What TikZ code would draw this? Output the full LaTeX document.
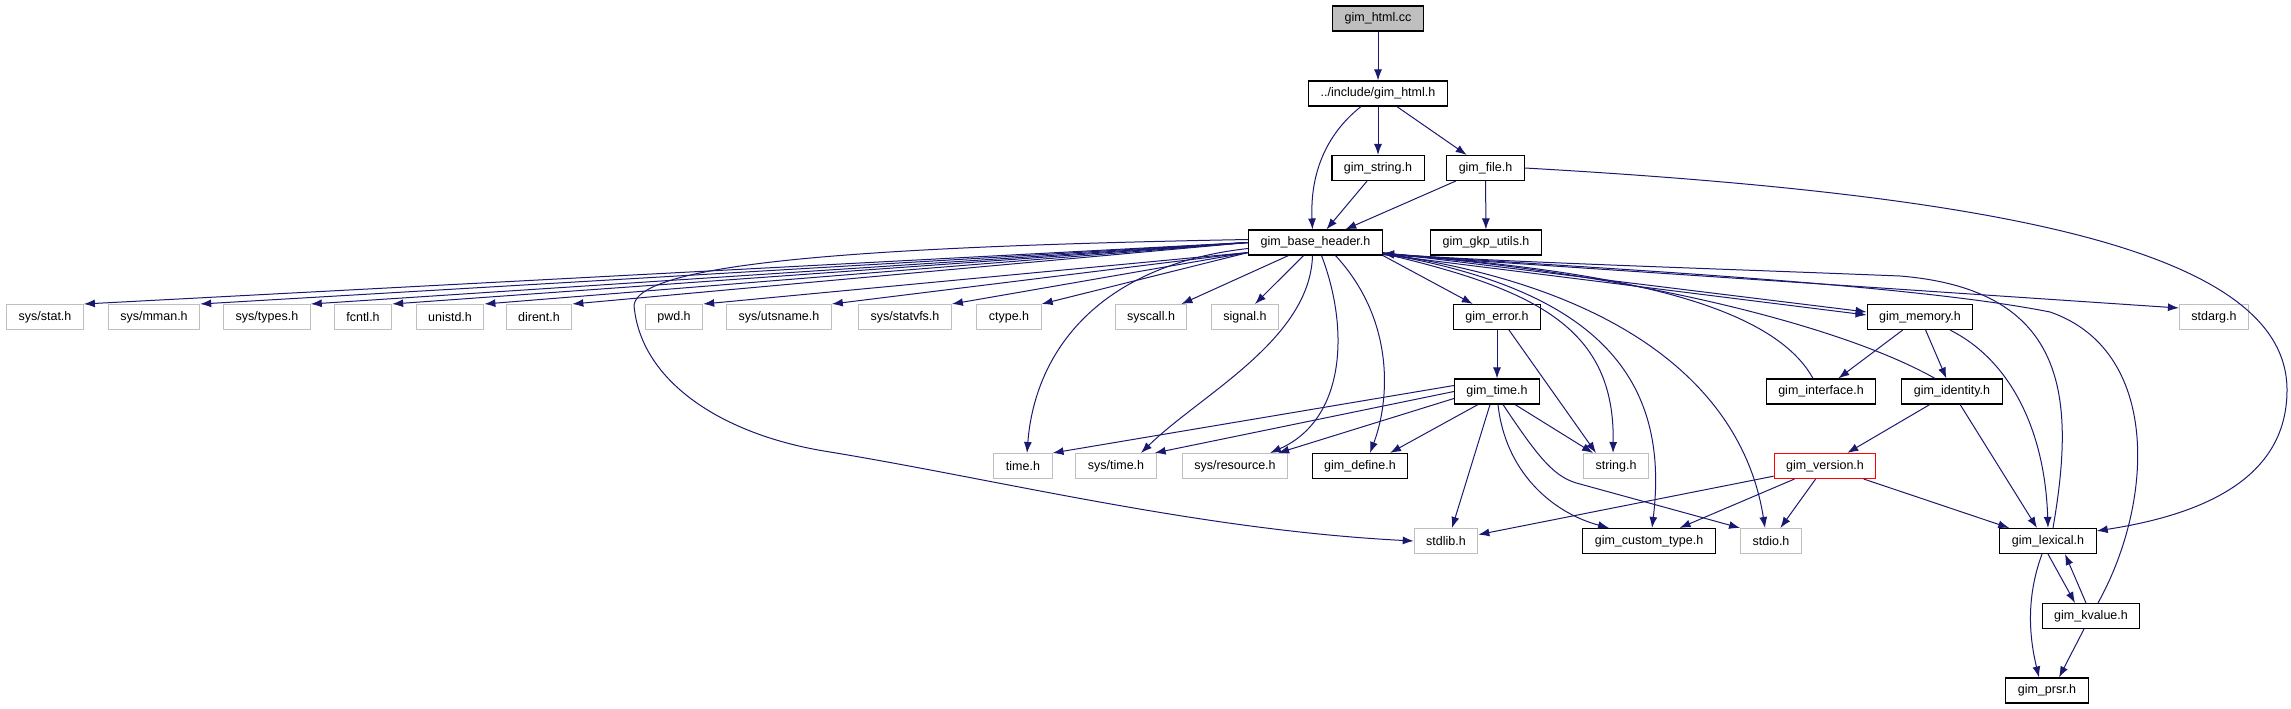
\documentclass[tikz,border=0pt]{standalone}
\usepackage{fontspec}
\setmainfont{Liberation Sans}
\usetikzlibrary{arrows.meta}

\definecolor{edgeblue}{HTML}{191970}
\definecolor{sysgrey}{HTML}{BFBFBF}
\definecolor{rootgrey}{HTML}{BFBFBF}

\tikzset{
  hdr/.style={draw=black, line width=1.1pt, inner xsep=12pt, inner ysep=0pt,
    minimum height=25pt, font=\fontsize{12.5}{14}\selectfont},
  syshdr/.style={hdr, draw=sysgrey, line width=1pt},
  roothdr/.style={hdr, fill=rootgrey},
  redhdr/.style={hdr, draw=red},
  incl/.style={draw=edgeblue, line width=1pt, -{Latex[length=11pt,width=8pt]}},
  deps/.style={every edge/.style={incl}},
}

\begin{document}
\begin{tikzpicture}[x=1pt,y=-1pt]
\useasboundingbox (0,0) rectangle (2291,709);

% top part
\node[roothdr] (cc)   at (1378,18.5)  {gim\_html.cc};
\node[hdr]     (html) at (1378,93.5)  {../include/gim\_html.h};
\node[hdr]     (str)  at (1378,168)   {gim\_string.h};
\node[hdr]     (file) at (1485.5,168) {gim\_file.h};
\node[hdr]     (base) at (1315.5,242.5) {gim\_base\_header.h};
\node[hdr]     (gkp)  at (1486,242.5) {gim\_gkp\_utils.h};

% system headers
\node[syshdr] (sysstat)  at (45,317)   {sys/stat.h};
\node[syshdr] (sysmman)  at (154,317)  {sys/mman.h};
\node[syshdr] (systypes) at (267,317)  {sys/types.h};
\node[syshdr] (fcntl)    at (363,317)  {fcntl.h};
\node[syshdr] (unistd)   at (450,317)  {unistd.h};
\node[syshdr] (dirent)   at (539,317)  {dirent.h};
\node[syshdr] (pwd)      at (674,317)  {pwd.h};
\node[syshdr] (utsname)  at (779,317)  {sys/utsname.h};
\node[syshdr] (statvfs)  at (905,317)  {sys/statvfs.h};
\node[syshdr] (ctype)    at (1009,317) {ctype.h};
\node[syshdr] (syscall)  at (1151,317) {syscall.h};
\node[syshdr] (signal)   at (1245,317) {signal.h};
\node[hdr]    (error)    at (1497,317) {gim\_error.h};
\node[hdr]    (memory)   at (1920,317) {gim\_memory.h};
\node[syshdr] (stdarg)   at (2214,317) {stdarg.h};

\node[hdr] (gtime) at (1497,391.5) {gim\_time.h};
\node[hdr] (iface) at (1821,391.5) {gim\_interface.h};
\node[hdr] (ident) at (1952,391.5) {gim\_identity.h};

\node[syshdr] (timeh)    at (1023,466) {time.h};
\node[syshdr] (systime)  at (1116,466) {sys/time.h};
\node[syshdr] (resource) at (1235,466) {sys/resource.h};
\node[hdr]    (define)   at (1360,466) {gim\_define.h};
\node[syshdr] (stringh)  at (1616,466) {string.h};
\node[redhdr] (version)  at (1825,466) {gim\_version.h};

\node[syshdr] (stdlib)  at (1446,541) {stdlib.h};
\node[hdr]    (custom)  at (1649,541) {gim\_custom\_type.h};
\node[syshdr] (stdio)   at (1771,541) {stdio.h};
\node[hdr]    (lexical) at (2048,541) {gim\_lexical.h};
\node[hdr]    (kvalue)  at (2091,616) {gim\_kvalue.h};
\node[hdr]    (prsr)    at (2047,690.5) {gim\_prsr.h};

% includes
\path[deps]
  (cc)   edge (html)
  (html) edge (str)
         edge (file)
  (str)  edge (base)
  (file) edge (base)
         edge (gkp);
\draw[incl] ([xshift=-17pt]html.south) .. controls (1325,135) and (1310,175) .. ([xshift=-3pt]base.north);
\draw[incl] (file.east) .. controls (2000,195) and (2287,250) .. (2287,390)
  .. controls (2287,480) and (2200,515) .. ([yshift=-3pt]lexical.north east);

\path[deps] (base.west)
  edge (sysstat.north east) edge (sysmman.north east) edge (systypes.north east)
  edge (fcntl.north east) edge (unistd.north east) edge (dirent.north east);
\path[deps] ([yshift=3pt]base.south west)
  edge (pwd.north east) edge (utsname.north east)
  edge (statvfs.north east) edge (ctype.north east);
\path[deps]
  ([xshift=-27pt]base.south) edge ([xshift=-6pt]syscall.north east)
  ([xshift=-12pt]base.south) edge ([xshift=10pt]signal.north)
  (base.south east) edge (error)
  ([yshift=3pt]base.south east) edge ([yshift=5pt]memory.west)
  ([yshift=1pt]base.south east) edge ([yshift=2pt]memory.west)
  ([yshift=1pt]base.south east) edge ([yshift=-4pt]stdarg.north west);

\draw[incl] ([yshift=-6pt]base.west) .. controls (1100,265) and (1035,350) .. ([xshift=4pt]timeh.north);
\draw[incl] ([xshift=-3pt]base.south) .. controls (1310,340) and (1200,395) .. ([xshift=25pt]systime.north);
\draw[incl] ([xshift=6pt]base.south) .. controls (1350,330) and (1345,420) .. ([xshift=35pt]resource.north);
\draw[incl] ([xshift=20pt]base.south) .. controls (1395,320) and (1390,400) .. ([xshift=10pt]define.north);
\draw[incl] ([yshift=2pt]base.south east) .. controls (1540,290) and (1615,330) .. ([xshift=-3pt]stringh.north);
\draw[incl] ([yshift=2pt]base.south east) .. controls (1600,290) and (1670,380) .. ([xshift=3pt]custom.north);
\draw[incl] ([yshift=2pt]base.south east) .. controls (1640,290) and (1745,400) .. ([xshift=-6pt]stdio.north);
\draw[incl] ([yshift=3pt]base.west) .. controls (900,246) and (640,260) .. (634,305)
  .. controls (640,380) and (720,435) .. (830,452)
  .. controls (1000,480) and (1200,530) .. (stdlib.west);

% back to the base header
\draw[incl] ([xshift=-8pt]iface.north) .. controls (1770,300) and (1600,270) .. ([yshift=2pt]base.south east);
\draw[incl] ([xshift=-17pt]ident.north) .. controls (1850,330) and (1650,275) .. ([yshift=2pt]base.south east);
\draw[incl] ([xshift=5pt]lexical.north) .. controls (2075,400) and (2070,290) .. (1900,276)
  .. controls (1700,268) and (1500,262) .. ([yshift=2pt]base.south east);
\draw[incl] ([xshift=7pt]kvalue.north) .. controls (2155,500) and (2160,350) .. (2050,312)
  .. controls (1900,282) and (1550,266) .. ([yshift=2pt]base.south east);

\path[deps]
  (error) edge (gtime)
  ([xshift=12pt]error.south) edge ([xshift=-20pt]stringh.north)
  ([yshift=6pt]gtime.west) edge (timeh.north east)
  (gtime.west) edge ([xshift=-2pt]systime.north east)
  ([yshift=-7pt]gtime.west) edge ([xshift=-10pt]resource.north east)
  ([xshift=-19pt]gtime.south) edge ([xshift=30pt]define.north)
  ([xshift=18pt]gtime.south) edge ([xshift=-23pt]stringh.north)
  ([xshift=-7pt]gtime.south) edge ([xshift=6pt]stdlib.north);
\draw[incl] ([xshift=1pt]gtime.south) .. controls (1505,470) and (1550,512) .. ([xshift=-40pt]custom.north);
\draw[incl] ([xshift=6pt]gtime.south) .. controls (1540,460) and (1555,478) .. (1580,484) -- (stdio.north west);

\path[deps]
  (memory) edge (iface)
           edge (ident)
  (ident)  edge (version)
           edge ([xshift=-11pt]lexical.north)
  (version) edge (stdlib)
            edge (custom)
            edge (stdio)
            edge (lexical);
\draw[incl] ([xshift=30pt]memory.south) .. controls (2010,360) and (2045,430) .. (lexical.north);

\path[deps]
  (lexical.south) edge ([xshift=-16pt]kvalue.north)
  ([xshift=-5pt]kvalue.north) edge ([xshift=17pt]lexical.south)
  ([xshift=-7pt]kvalue.south) edge ([xshift=12pt]prsr.north);
\draw[incl] ([xshift=-6pt]lexical.south) .. controls (2025,600) and (2030,640) .. ([xshift=-8pt]prsr.north);
\end{tikzpicture}
\end{document}
